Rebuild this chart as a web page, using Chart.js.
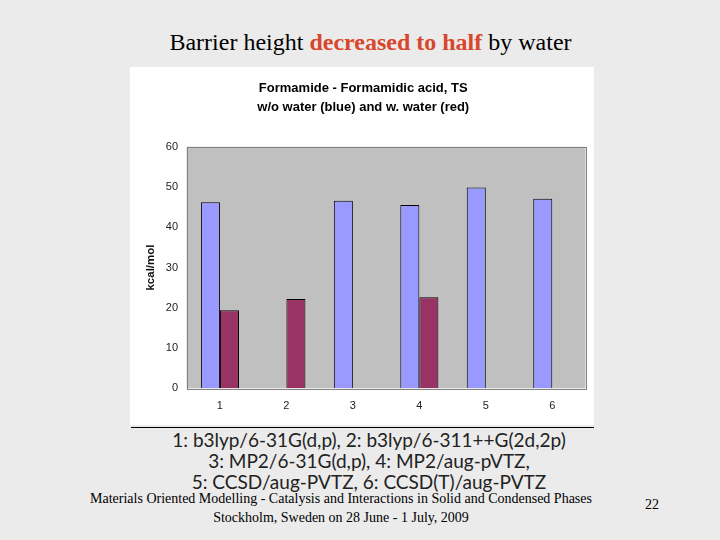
<!DOCTYPE html>
<html>
<head>
<meta charset="utf-8">
<script src="https://cdn.jsdelivr.net/npm/chart.js@4.4.0/dist/chart.umd.min.js"></script>
<style>
  body { margin: 0; background: #ebebeb; }
  .slide { position: relative; width: 720px; height: 540px; background: #ebebeb; overflow: hidden; }
  .head { position: absolute; left: 0; width: 741px; top: 29px; text-align: center;
          font: 24px "Liberation Serif", serif; color: #000; }
  .head b { color: #d8472b; }
  .box { position: absolute; left: 130px; top: 67px; width: 464px; height: 358px; background: #fff; }
  .rule { position: absolute; left: 131px; top: 427px; width: 463px; height: 1px; background: #000; }
  .methods { position: absolute; left: 0; width: 738px; top: 429px; text-align: center;
             font: 19px Lato, sans-serif; line-height: 21px; color: #222; }
  .foot { position: absolute; left: 0; width: 682px; top: 489px; text-align: center;
          font: 14px "Liberation Serif", serif; line-height: 19px; color: #000; }
  .page { position: absolute; left: 645px; top: 497px; font: 14px "Liberation Serif", serif; }
</style>
</head>
<body>
<div class="slide">
  <div class="head">Barrier height <b>decreased to half</b> by water</div>
  <div class="box"><canvas id="barChart" width="464" height="358"></canvas></div>
  <div class="rule"></div>
  <div class="methods">
    1: b3lyp/6-31G(d,p), 2: b3lyp/6-311++G(2d,2p)<br>
    3: MP2/6-31G(d,p), 4: MP2/aug-pVTZ,<br>
    5: CCSD/aug-PVTZ, 6: CCSD(T)/aug-PVTZ
  </div>
  <div class="foot">
    Materials Oriented Modelling - Catalysis and Interactions in Solid and Condensed Phases<br>
    Stockholm, Sweden on 28 June - 1 July, 2009
  </div>
  <div class="page">22</div>
</div>
<script>
// method number on the x axis
const methods = ['1', '2', '3', '4', '5', '6'];
// kcal/mol (null = no bar)
const withoutWater = [46.2, null, 46.6, 45.5, 49.9, 47.1];
const withWater = [19.4, 22.2, null, 22.6, null, null];
const yTicks = [0, 10, 20, 30, 40, 50, 60];

const plotFrame = {
  id: 'plotFrame',
  beforeDraw(chart) {
    const { ctx, chartArea: a } = chart;
    ctx.save();
    ctx.fillStyle = '#c0c0c0';
    ctx.fillRect(a.left, a.top, a.right - a.left, a.bottom - a.top);
    ctx.restore();
  },
  afterDraw(chart) {
    const { ctx, chartArea: a } = chart;
    ctx.save();
    ctx.strokeStyle = '#808080';
    ctx.lineWidth = 1;
    ctx.strokeRect(Math.round(a.left) + 0.5, Math.round(a.top) + 0.5,
      Math.round(a.right - a.left), Math.round(a.bottom - a.top));
    ctx.restore();
  }
};

const tickFont = { family: '"Liberation Sans", Arial, sans-serif', size: 11 };

new Chart(document.getElementById('barChart'), {
  type: 'bar',
  data: {
    labels: methods,
    datasets: [{
      label: 'w/o water',
      data: withoutWater,
      backgroundColor: '#9999ff',
      borderColor: '#000',
      borderWidth: 1
    }, {
      label: 'w. water',
      data: withWater,
      backgroundColor: '#993366',
      borderColor: '#000',
      borderWidth: 1
    }]
  },
  options: {
    responsive: false,
    animation: false,
    categoryPercentage: 0.573,
    barPercentage: 1,
    layout: { padding: { left: 11, right: 8.5, top: 0, bottom: 0 } },
    plugins: {
      legend: { display: false },
      tooltip: { enabled: false },
      title: {
        display: true,
        text: ['Formamide - Formamidic acid, TS', 'w/o water (blue) and w. water (red)'],
        font: { family: '"Liberation Sans", Arial, sans-serif', size: 13, weight: 'bold', lineHeight: 1.44 },
        color: '#000',
        padding: { top: 12, bottom: 30.3 }
      }
    },
    scales: {
      x: {
        grid: { display: false, drawTicks: false },
        border: { display: false },
        ticks: { font: tickFont, color: '#222', padding: 11 },
        afterFit(scale) { scale.height = 36.7; }
      },
      y: {
        min: 0,
        max: 60,
        afterBuildTicks(scale) { scale.ticks = yTicks.map(v => ({ value: v })); },
        grid: { display: false, drawTicks: false },
        border: { display: false },
        ticks: { font: tickFont, color: '#222', padding: 8.7 },
        title: {
          display: true,
          text: 'kcal/mol',
          font: { family: '"Liberation Sans", Arial, sans-serif', size: 11.5, weight: 'bold' },
          color: '#111',
          padding: { top: 3, bottom: 0 }
        },
        afterFit(scale) { scale.width = 45.7; }
      }
    }
  },
  plugins: [plotFrame]
});
</script>
</body>
</html>
